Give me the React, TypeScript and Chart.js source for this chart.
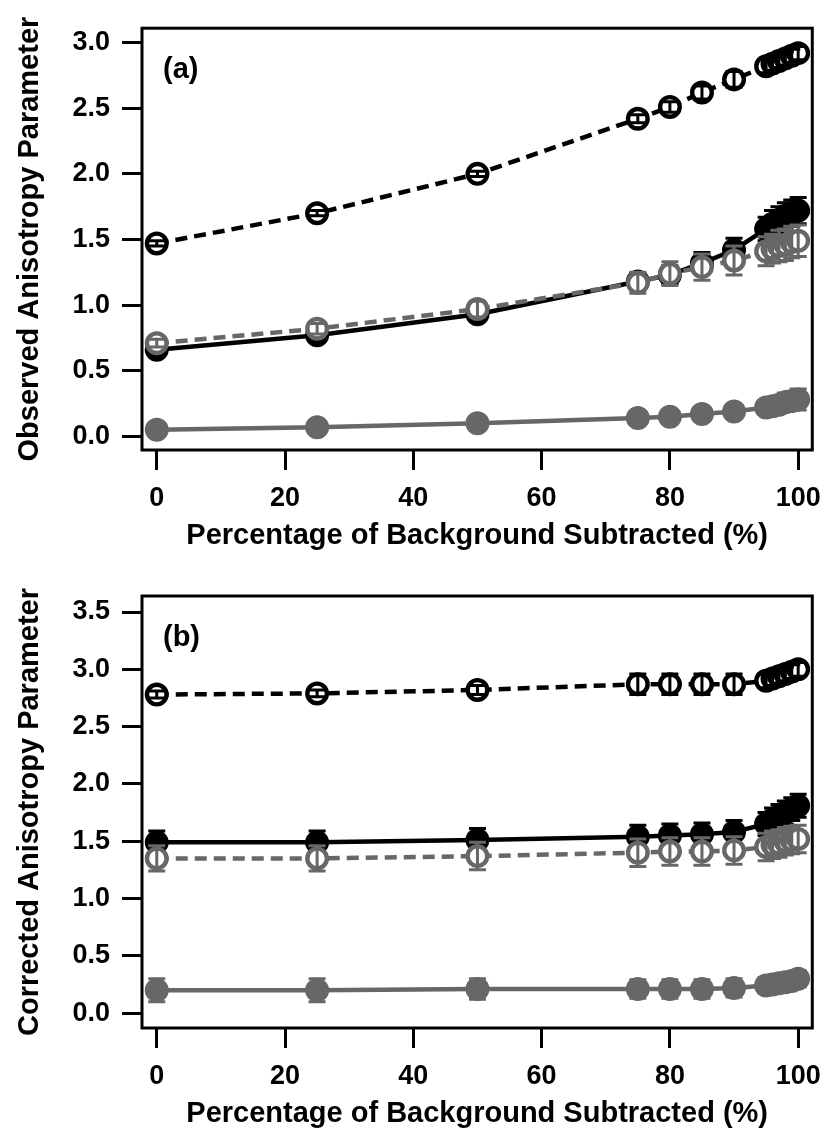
import React, { useEffect, useRef } from "react";
import { Chart, registerables } from "chart.js";

Chart.register(...registerables);

// Percentage of background subtracted (shared x values for every series)
const percentSubtracted = [0, 25, 50, 75, 80, 85, 90, 95, 96, 97, 98, 99, 100];
const xTickValues = [0, 20, 40, 60, 80, 100];
const yTicksObserved = [0, 0.5, 1.0, 1.5, 2.0, 2.5, 3.0];
const yTicksCorrected = [0, 0.5, 1.0, 1.5, 2.0, 2.5, 3.0, 3.5];

// (a) observed anisotropy
const obsBlackOpen = [1.47, 1.7, 2.0, 2.42, 2.51, 2.62, 2.72, 2.82, 2.84, 2.86, 2.88, 2.9, 2.92];
const obsBlackOpenErr = [0.02, 0.02, 0.02, 0.03, 0.04, 0.05, 0.06, 0.05, 0.05, 0.05, 0.05, 0.05, 0.05];
const obsBlackFilled = [0.66, 0.77, 0.93, 1.18, 1.23, 1.32, 1.42, 1.58, 1.62, 1.65, 1.68, 1.7, 1.72];
const obsBlackFilledErr = [0.02, 0.03, 0.04, 0.06, 0.07, 0.08, 0.09, 0.09, 0.1, 0.1, 0.1, 0.1, 0.1];
const obsGrayOpen = [0.71, 0.82, 0.97, 1.17, 1.24, 1.29, 1.34, 1.41, 1.43, 1.45, 1.46, 1.48, 1.49];
const obsGrayOpenErr = [0.03, 0.04, 0.06, 0.08, 0.09, 0.1, 0.11, 0.11, 0.11, 0.12, 0.12, 0.12, 0.12];
const obsGrayFilled = [0.05, 0.07, 0.1, 0.14, 0.15, 0.17, 0.19, 0.22, 0.23, 0.24, 0.26, 0.27, 0.28];
const obsGrayFilledErr = [0.01, 0.01, 0.01, 0.02, 0.02, 0.02, 0.03, 0.05, 0.06, 0.06, 0.07, 0.07, 0.08];

// (b) corrected anisotropy
const corBlackOpen = [2.78, 2.79, 2.82, 2.87, 2.87, 2.87, 2.87, 2.9, 2.92, 2.94, 2.96, 2.98, 3.0];
const corBlackOpenErr = [0.03, 0.03, 0.04, 0.09, 0.09, 0.09, 0.09, 0.06, 0.06, 0.06, 0.06, 0.06, 0.06];
const corBlackFilled = [1.49, 1.49, 1.51, 1.54, 1.55, 1.56, 1.58, 1.65, 1.69, 1.72, 1.75, 1.78, 1.81];
const corBlackFilledErr = [0.1, 0.1, 0.1, 0.1, 0.1, 0.1, 0.1, 0.1, 0.1, 0.1, 0.1, 0.1, 0.1];
const corGrayOpen = [1.35, 1.35, 1.37, 1.4, 1.41, 1.41, 1.42, 1.45, 1.47, 1.48, 1.5, 1.51, 1.52];
const corGrayOpenErr = [0.11, 0.11, 0.12, 0.12, 0.12, 0.12, 0.12, 0.12, 0.12, 0.12, 0.12, 0.12, 0.12];
const corGrayFilled = [0.2, 0.2, 0.21, 0.21, 0.21, 0.21, 0.22, 0.24, 0.25, 0.26, 0.27, 0.28, 0.3];
const corGrayFilledErr = [0.1, 0.1, 0.09, 0.08, 0.08, 0.08, 0.08, 0.07, 0.07, 0.07, 0.07, 0.07, 0.07];

const BLACK = "#000000";
const GRAY = "#676767";
const FONT = "'Liberation Sans', Arial, Helvetica, sans-serif";

type Series = {
  values: number[];
  errors: number[];
  color: string;
  dashed: boolean;
  open: boolean;
  order: number;
};

type Panel = {
  tag: string;
  yTitle: string;
  yMin: number;
  yMax: number;
  yTicks: number[];
  height: number;
  padTop: number;
  xAxisHeight: number;
  xTitlePadBottom: number;
  series: Series[];
};

const panels: Panel[] = [
  {
    tag: "(a)",
    yTitle: "Observed Anisotropy Parameter",
    yMin: -0.104,
    yMax: 3.11,
    yTicks: yTicksObserved,
    height: 566,
    padTop: 18,
    xAxisHeight: 116,
    xTitlePadBottom: 13,
    series: [
      { values: obsGrayOpen, errors: obsGrayOpenErr, color: GRAY, dashed: true, open: true, order: 1 },
      { values: obsBlackOpen, errors: obsBlackOpenErr, color: BLACK, dashed: true, open: true, order: 2 },
      { values: obsBlackFilled, errors: obsBlackFilledErr, color: BLACK, dashed: false, open: false, order: 3 },
      { values: obsGrayFilled, errors: obsGrayFilledErr, color: GRAY, dashed: false, open: false, order: 4 },
    ],
  },
  {
    tag: "(b)",
    yTitle: "Corrected Anisotropy Parameter",
    yMin: -0.13,
    yMax: 3.64,
    yTicks: yTicksCorrected,
    height: 567,
    padTop: 30,
    xAxisHeight: 105,
    xTitlePadBottom: 2,
    series: [
      { values: corGrayOpen, errors: corGrayOpenErr, color: GRAY, dashed: true, open: true, order: 1 },
      { values: corBlackOpen, errors: corBlackOpenErr, color: BLACK, dashed: true, open: true, order: 2 },
      { values: corBlackFilled, errors: corBlackFilledErr, color: BLACK, dashed: false, open: false, order: 3 },
      { values: corGrayFilled, errors: corGrayFilledErr, color: GRAY, dashed: false, open: false, order: 4 },
    ],
  },
];

// Vertical error bars with caps, drawn right after each dataset,
// plus the frame around the plot area and the panel tag.
const framePlugin = {
  id: "frameAndErrors",
  afterDatasetDraw(chart: any, args: any) {
    const ds = chart.data.datasets[args.index];
    const errs: number[] | undefined = ds.errorBars;
    if (!errs) return;
    const yScale = chart.scales.y;
    const ctx = chart.ctx;
    ctx.save();
    ctx.strokeStyle = ds.borderColor;
    ctx.lineWidth = 3;
    ctx.setLineDash([]);
    const cap = 8.5;
    args.meta.data.forEach((el: any, i: number) => {
      const v = ds.data[i].y;
      const e = errs[i];
      const x = el.x;
      const yTop = yScale.getPixelForValue(v + e);
      const yBot = yScale.getPixelForValue(v - e);
      ctx.beginPath();
      ctx.moveTo(x, yTop);
      ctx.lineTo(x, yBot);
      ctx.moveTo(x - cap, yTop);
      ctx.lineTo(x + cap, yTop);
      ctx.moveTo(x - cap, yBot);
      ctx.lineTo(x + cap, yBot);
      ctx.stroke();
    });
    ctx.restore();
  },
  afterDraw(chart: any) {
    const { ctx, chartArea } = chart;
    ctx.save();
    ctx.strokeStyle = "#000";
    ctx.lineWidth = 3;
    ctx.strokeRect(chartArea.left, chartArea.top, chartArea.right - chartArea.left, chartArea.bottom - chartArea.top);
    ctx.fillStyle = "#000";
    ctx.font = `bold 29px ${FONT}`;
    ctx.textAlign = "left";
    ctx.textBaseline = "middle";
    ctx.fillText(chart.options.panelTag, chartArea.left + 21, chartArea.top + 42);
    ctx.restore();
  },
};

function buildConfig(p: Panel): any {
  const tickFont = { family: FONT, size: 27, weight: "bold" };
  const titleFont = { family: FONT, size: 29, weight: "bold" };
  const datasets = p.series.map((s) => ({
    data: percentSubtracted.map((x, i) => ({ x, y: s.values[i] })),
    errorBars: s.errors,
    showLine: true,
    borderColor: s.color,
    backgroundColor: s.color,
    borderWidth: 4.5,
    borderDash: s.dashed ? [12, 7] : [],
    pointRadius: s.open ? 9.8 : 11,
    pointBorderWidth: s.open ? 4.4 : 2,
    pointBackgroundColor: s.open ? "#ffffff" : s.color,
    pointBorderColor: s.color,
    order: s.order,
    tension: 0,
  }));
  return {
    type: "scatter",
    data: { datasets },
    options: {
      animation: false,
      responsive: false,
      panelTag: p.tag,
      layout: { padding: { top: p.padTop, right: 13, left: 0, bottom: 0 } },
      plugins: { legend: { display: false }, tooltip: { enabled: false } },
      scales: {
        x: {
          type: "linear",
          min: -2.3,
          max: 102.2,
          afterBuildTicks: (s: any) => {
            s.ticks = xTickValues.map((v) => ({ value: v }));
          },
          afterFit: (s: any) => {
            s.height = p.xAxisHeight;
          },
          grid: { drawOnChartArea: false, drawTicks: true, tickLength: 20, tickWidth: 3, tickColor: "#000" },
          border: { display: false },
          ticks: {
            color: "#000",
            font: tickFont,
            padding: 12,
            maxRotation: 0,
            autoSkip: false,
            callback: (v: number) => String(v),
          },
          title: {
            display: true,
            text: "Percentage of Background Subtracted (%)",
            color: "#000",
            font: titleFont,
            padding: { top: 0, bottom: p.xTitlePadBottom },
          },
        },
        y: {
          type: "linear",
          min: p.yMin,
          max: p.yMax,
          afterBuildTicks: (s: any) => {
            s.ticks = p.yTicks.map((v) => ({ value: v }));
          },
          afterFit: (s: any) => {
            s.width = 142;
          },
          grid: { drawOnChartArea: false, drawTicks: true, tickLength: 20, tickWidth: 3, tickColor: "#000" },
          border: { display: false },
          ticks: {
            color: "#000",
            font: tickFont,
            padding: 12,
            autoSkip: false,
            callback: (v: number) => v.toFixed(1),
          },
          title: {
            display: true,
            text: p.yTitle,
            color: "#000",
            font: titleFont,
            padding: { top: 13, bottom: 0 },
          },
        },
      },
    },
    plugins: [framePlugin],
  };
}

function PanelChart({ panel }: { panel: Panel }) {
  const ref = useRef<HTMLCanvasElement | null>(null);
  useEffect(() => {
    if (!ref.current) return;
    const chart = new Chart(ref.current, buildConfig(panel));
    return () => chart.destroy();
  }, [panel]);
  return (
    <canvas
      ref={ref}
      width={833}
      height={panel.height}
      style={{ display: "block", width: 833, height: panel.height }}
    />
  );
}

export default function App() {
  return (
    <div style={{ position: "absolute", left: 0, top: 0, width: 833, height: 1133, background: "#fff" }}>
      {panels.map((p) => (
        <PanelChart key={p.tag} panel={p} />
      ))}
    </div>
  );
}
